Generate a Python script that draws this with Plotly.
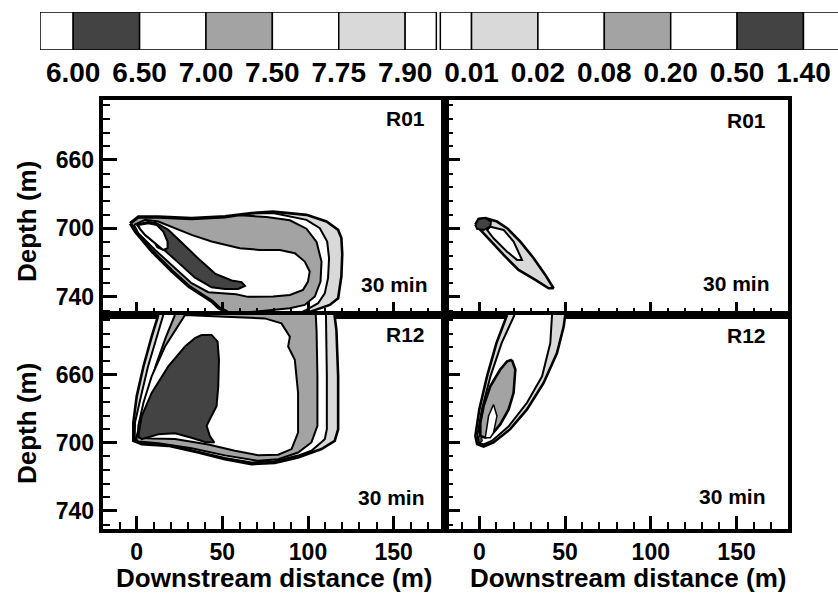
import plotly.graph_objects as go

# ---------------- data ----------------
# colour key (positions in key units, labels)
key_labels = ['6.00', '6.50', '7.00', '7.50', '7.75', '7.90',
              '0.01', '0.02', '0.08', '0.20', '0.50', '1.40']
key_starts = [-0.5, 0, 1, 2, 3, 4, 5, 5.53, 6, 7, 8, 9, 10, 11]
key_ends = [0, 1, 2, 3, 4, 5, 5.47, 6, 7, 8, 9, 10, 11, 12]
key_shades = ['white', 'dark', 'white', 'mid', 'white', 'light', 'white',
              'white', 'light', 'white', 'mid', 'white', 'dark', 'white']

x_ticks = [0, 50, 100, 150]
x_minor_step = 10
depth_ticks = [660, 700, 740]
depth_minor_step = 8

# ---- R01, pH (top-left), contours: x (m), depth (m)
r01_ph790_x = [-4, 0.9, 12.6, 32, 51.5, 67, 79.6, 99.1, 110.8, 117.6, 119.5, 120, 119.5, 117.6, 112.7, 105, 99, 97, 52, 51.5, 47.6, 43.7, 37.9, 30.1, 20.4, 8.7, -1, -4]
r01_ph790_d = [697, 693.1, 693.1, 694, 693, 691, 690.2, 692.1, 696, 700.9, 705.7, 715, 728, 740.8, 744.7, 747.6, 749.5, 760, 760, 748.6, 746.6, 742.8, 738.9, 734, 725.2, 713.6, 701.9, 697]
r01_ph775_x = [-3.5, 1, 12.6, 32, 51.5, 67, 79.6, 99.1, 106.9, 111.2, 112.3, 111.7, 109.8, 105.9, 99.1, 95, 93, 52.5, 52, 48, 44, 38.2, 30.4, 20.7, 9, -0.6, -3.5]
r01_ph775_d = [697, 693.5, 693.5, 694.4, 693.4, 691.4, 691, 695, 699.9, 707.7, 717.4, 729.1, 737.9, 743.7, 747.6, 749.5, 760, 760, 748.4, 746.3, 742.5, 738.6, 733.7, 724.9, 713.3, 701.7, 697]
r01_ph750_x = [-3.2, 1, 12.6, 32, 51.5, 60.2, 75.8, 89.4, 99.1, 105, 107.9, 107.3, 104, 98.1, 89.4, 79.6, 70, 65, 60, 54, 52.5, 48.3, 44.3, 38.5, 30.7, 21, 9.3, -0.3, -3.2]
r01_ph750_d = [697, 693.8, 693.8, 694.7, 693.7, 692.3, 693.4, 695.3, 700.2, 707.9, 719.4, 731.1, 739.8, 744.7, 746.6, 747.6, 748.2, 749, 750, 749.5, 748.2, 746.1, 742.3, 738.4, 733.5, 724.7, 713.1, 701.5, 697]
r01_ph700_x = [-1.6, 5, 12.6, 22.3, 32, 43.7, 55.4, 60.2, 71.9, 83.6, 92.3, 98.1, 101, 100, 97.1, 89.4, 79.6, 71.9, 65, 58, 51.5, 41.8, 32, 22.3, 10.7, 0.9, -1.6]
r01_ph700_d = [698, 695, 696, 699.9, 703.8, 707.7, 710.6, 711.6, 712.6, 712.6, 714.5, 719.4, 725.2, 731.1, 735.9, 738.9, 739.8, 739.8, 740, 738.5, 738, 737.3, 732, 723.3, 712.6, 702.8, 698]
r01_ph650_x = [0, 6.8, 11.7, 18.4, 26.2, 35.9, 45.7, 55.4, 61.2, 63.2, 59.3, 51.5, 43.7, 34, 24.3, 16.5, 12, 10.7, 4.8, 1.9, 0]
r01_ph650_d = [697.8, 696.2, 697, 700.8, 708.2, 717.6, 726.4, 730.4, 731.4, 733.6, 735.4, 735.4, 734.4, 728.8, 720, 713, 711, 708.7, 703.8, 700.3, 697.8]
r01_ph600_x = [0.9, 6.8, 11.7, 15.5, 18, 18, 15.5, 10.7, 4.8, 1.9, 0.9]
r01_ph600_d = [698, 697, 698, 701.9, 707.7, 711.6, 712.6, 708.7, 703.8, 700.3, 698]

# ---- R12, pH (bottom-left)
r12_ph790_x = [12.6, 8.7, 3.9, 0, -2, -2, 2.9, 18.4, 35.9, 51.5, 67, 80.6, 94.2, 107.9, 115.6, 117.6, 117.6, 116.6, 115.6, 115, 12, 12.6]
r12_ph790_d = [625, 637.7, 655.2, 672.6, 688.2, 698.9, 700.8, 701.8, 705.7, 709.6, 712.5, 711.9, 708.6, 703.7, 698.9, 692.1, 661, 633.8, 626, 615, 615, 625]
r12_ph775_x = [15.5, 11.5, 6.5, 2.5, -1, -1.2, 3, 18.4, 35.9, 51.5, 67, 80.6, 94.2, 102, 109.8, 111, 111, 110.8, 110.5, 110, 15, 15.5]
r12_ph775_d = [625, 638, 655.5, 672.5, 688, 698.3, 700.1, 701.1, 705, 708.9, 711.5, 710.8, 707.5, 704.7, 697.9, 692, 661, 634, 626, 615, 615, 625]
r12_ph750_x = [22.3, 17, 11, 6.5, 2.5, -0.5, 0.9, 12.6, 32, 51.5, 70.9, 82.6, 94.2, 102, 105.5, 105.5, 105, 104.5, 104, 22, 22.3]
r12_ph750_d = [625, 638, 655, 672, 688, 697.8, 699.3, 700.3, 703.2, 707.4, 710.6, 709.6, 705.7, 699.8, 690.1, 661, 634, 626, 615, 615, 625]
r12_ph700_x = [28.2, 16.5, 8.7, 3.9, 0.9, 0.9, 8.7, 22.3, 41.8, 57.3, 70.9, 82.6, 90.4, 94.2, 94.2, 92.3, 88.4, 89.4, 84.5, 74.8, 51.5, 28.2]
r12_ph700_d = [625, 643.5, 661, 676.5, 690.1, 697, 697.5, 697.8, 701, 704.7, 707.3, 707, 703.7, 694, 670.7, 651.3, 643.5, 637.7, 629.9, 627, 626, 625]
r12_ph650_x = [37.9, 43.7, 47.2, 48, 47.6, 46.6, 42.7, 40.8, 42.7, 45.3, 39.8, 32, 22.3, 12.6, 2.9, 0.9, 2.9, 8.7, 18.4, 28.2, 34, 37.9]
r12_ph650_d = [636.7, 636.7, 640.6, 651.3, 666.8, 678.5, 686.2, 690.1, 696, 699.8, 699.5, 697, 694.4, 695, 697.9, 696, 684.3, 670.7, 655.2, 643.5, 638.6, 636.7]

# ---- R01, concentration (top-right)
r01_c001_x = [-2.3, -0.4, 3.5, 10.3, 16.2, 23.9, 31.7, 38.5, 43.3, 40.4, 32.7, 22.9, 14.2, 6.4, 1.6, -2.3]
r01_c001_d = [697.8, 694.5, 694, 696, 699.9, 707.7, 717.4, 727.2, 735, 735, 730.1, 724.3, 715.5, 706.7, 701.9, 697.8]
r01_c002_x = [6.4, 14.2, 20, 22.9, 24.9, 22, 16.2, 8.3, 4.5, 6.4]
r01_c002_d = [699, 700.9, 707.7, 714.5, 718.4, 718.4, 713.6, 705.8, 700.9, 699]
r01_c050_x = [-2.3, -0.4, 3.5, 6.8, 6.4, 2.5, -1.3, -2.3]
r01_c050_d = [697.8, 694.5, 694, 696, 699, 700.9, 700.3, 697.8]

# ---- R12, concentration (bottom-right)
r12_c001_x = [16.2, 10, 4.5, 0, -2.3, -1.3, 2.5, 8.3, 18, 27.8, 37.5, 45.3, 49.2, 50.1, 50.5, 16, 16.2]
r12_c001_d = [625, 641.5, 661, 680.4, 696, 700.8, 702.2, 699.8, 692, 680.4, 664.9, 647.3, 631.8, 625, 615, 615, 625]
r12_c002_x = [20.5, 13, 6.5, 1.5, -1, -0.5, 2.5, 7.5, 17, 27.8, 36.6, 41.4, 42.4, 42.6, 20.8, 20.5]
r12_c002_d = [625, 641.5, 661, 680.4, 695, 699.8, 701, 698.8, 690.5, 676.5, 661, 641.5, 625, 615, 615, 625]
r12_c008_x = [19, 21, 20, 17.1, 12.2, 7.4, 3.5, 0.6, 0.6, 2.5, 6.4, 12.2, 16.2, 19]
r12_c008_d = [651.3, 657, 670.7, 680.4, 689.2, 695, 697, 696, 688.2, 678.5, 666.8, 657, 652.2, 651.3]
r12_c020_x = [3.5, 5.4, 8.3, 10.3, 8.3, 6.4, 3.5]
r12_c020_d = [697, 684.3, 677.5, 684.3, 694, 697, 697]
r12_c050_x = [-0.8, 1.2, 1.8, 0, -0.8]
r12_c050_d = [696.5, 696, 699, 700, 696.5]

# ---------------- style ----------------
SHADE = {'white': '#ffffff', 'light': '#d9d9d9', 'mid': '#a3a3a3', 'dark': '#434343'}
FONT = 'Liberation Sans, Arial, Helvetica, sans-serif'
W, H = 838, 595

fig = go.Figure()


def poly(xs, ds, shade, ax, lw=2.0):
    fig.add_trace(go.Scatter(
        x=xs, y=ds, mode='lines', fill='toself', fillcolor=SHADE[shade],
        line=dict(color='black', width=lw), hoverinfo='skip', showlegend=False,
        xaxis='x' + ax, yaxis='y' + ax))


# top-left (axis 1)
poly(r01_ph790_x, r01_ph790_d, 'light', '', 2.6)
poly(r01_ph775_x, r01_ph775_d, 'white', '')
poly(r01_ph750_x, r01_ph750_d, 'mid', '')
poly(r01_ph700_x, r01_ph700_d, 'white', '')
poly(r01_ph650_x, r01_ph650_d, 'dark', '')
poly(r01_ph600_x, r01_ph600_d, 'white', '')
# top-right (axis 2)
poly(r01_c001_x, r01_c001_d, 'light', '2', 2.6)
poly(r01_c002_x, r01_c002_d, 'white', '2')
poly(r01_c050_x, r01_c050_d, 'dark', '2')
# bottom-left (axis 3)
poly(r12_ph790_x, r12_ph790_d, 'light', '3', 2.6)
poly(r12_ph775_x, r12_ph775_d, 'white', '3')
poly(r12_ph750_x, r12_ph750_d, 'mid', '3')
poly(r12_ph700_x, r12_ph700_d, 'white', '3')
poly(r12_ph650_x, r12_ph650_d, 'dark', '3')
# bottom-right (axis 4)
poly(r12_c001_x, r12_c001_d, 'light', '4', 2.6)
poly(r12_c002_x, r12_c002_d, 'white', '4')
poly(r12_c008_x, r12_c008_d, 'mid', '4', 2.6)
poly(r12_c020_x, r12_c020_d, 'white', '4', 1.5)
poly(r12_c050_x, r12_c050_d, 'dark', '4', 1.0)

# colour key
fig.add_trace(go.Bar(
    orientation='h', y=[0] * len(key_starts),
    x=[e - s for s, e in zip(key_starts, key_ends)], base=key_starts,
    width=1, marker=dict(color=[SHADE[s] for s in key_shades],
                         line=dict(color='black', width=1.5)),
    hoverinfo='skip', showlegend=False, xaxis='x5', yaxis='y5'))

# ---------------- layout ----------------
XL = [102.5 / W, 445 / W]
XR = [445 / W, 788 / W]
YT = [(H - 315) / H, (H - 100) / H]
YB = [(H - 529) / H, (H - 315) / H]


def xax(domain, anchor, labels):
    return dict(domain=domain, anchor=anchor, range=[-20, 180],
                tickmode='linear', tick0=x_ticks[0], dtick=x_ticks[1] - x_ticks[0],
                showticklabels=labels,
                ticks='inside', ticklen=13, tickwidth=3, tickcolor='black',
                minor=dict(tickmode='linear', dtick=x_minor_step, tick0=x_ticks[0],
                           ticks='inside', ticklen=7,
                           tickwidth=2, tickcolor='black', showgrid=False),
                showline=True, linewidth=3.5, linecolor='black', mirror=True,
                showgrid=False, zeroline=False,
                tickfont=dict(family=FONT, size=23, color='black', weight='bold'))


def yax(domain, anchor, labels):
    return dict(domain=domain, anchor=anchor, range=[750.6, 625],
                tickmode='linear', tick0=depth_ticks[0],
                dtick=depth_ticks[1] - depth_ticks[0],
                showticklabels=labels,
                ticks='inside', ticklen=15, tickwidth=3, tickcolor='black',
                minor=dict(tickmode='linear', dtick=depth_minor_step,
                           tick0=depth_ticks[0], ticks='inside', ticklen=8,
                           tickwidth=2, tickcolor='black', showgrid=False),
                showline=True, linewidth=3.5, linecolor='black', mirror=True,
                showgrid=False, zeroline=False,
                tickfont=dict(family=FONT, size=23, color='black', weight='bold'))


annots = []


def label(text, xr, yr, x, y):
    annots.append(dict(text=text, xref=xr, yref=yr, x=x, y=y, xanchor='right',
                       yanchor='middle', showarrow=False,
                       font=dict(family=FONT, size=21, color='black', weight='bold')))


label('R01', 'x domain', 'y domain', 0.947, 0.912)
label('30 min', 'x domain', 'y domain', 0.956, 0.144)
label('R01', 'x2 domain', 'y2 domain', 0.942, 0.903)
label('30 min', 'x2 domain', 'y2 domain', 0.952, 0.147)
label('R12', 'x3 domain', 'y3 domain', 0.947, 0.907)
label('30 min', 'x3 domain', 'y3 domain', 0.947, 0.147)
label('R12', 'x4 domain', 'y4 domain', 0.943, 0.902)
label('30 min', 'x4 domain', 'y4 domain', 0.943, 0.152)

title_font = dict(family=FONT, size=26, color='black', weight='bold')
for xc in [274 / W, 628 / W]:
    annots.append(dict(text='Downstream distance (m)', xref='paper', yref='paper',
                       x=xc, y=(H - 578) / H, xanchor='center', yanchor='middle',
                       showarrow=False, font=title_font))
for yc in [(H - 222) / H, (H - 424) / H]:
    annots.append(dict(text='Depth (m)', xref='paper', yref='paper',
                       x=27 / W, y=yc, xanchor='center', yanchor='middle',
                       textangle=-90, showarrow=False, font=title_font))

fig.update_layout(
    width=W, height=H, margin=dict(l=0, r=0, t=0, b=0),
    paper_bgcolor='white', plot_bgcolor='white', showlegend=False,
    barmode='overlay',
    xaxis=xax(XL, 'y', False), yaxis=yax(YT, 'x', True),
    xaxis2=xax(XR, 'y2', False), yaxis2=yax(YT, 'x2', False),
    xaxis3=xax(XL, 'y3', True), yaxis3=yax(YB, 'x3', True),
    xaxis4=xax(XR, 'y4', True), yaxis4=yax(YB, 'x4', False),
    xaxis5=dict(domain=[40 / W, 1.0], anchor='y5', range=[-0.5, 11.52],
                tickvals=list(range(len(key_labels))), ticktext=key_labels,
                tickangle=0, ticks='', showline=False, showgrid=False,
                zeroline=False, ticklabelstandoff=3,
                tickfont=dict(family=FONT, size=28, color='black', weight='bold')),
    yaxis5=dict(domain=[(H - 50) / H, (H - 12) / H], anchor='x5', range=[-0.5, 0.5],
                showticklabels=False, showgrid=False, zeroline=False, showline=False),
    annotations=annots,
)

fig.write_html('out.html')
